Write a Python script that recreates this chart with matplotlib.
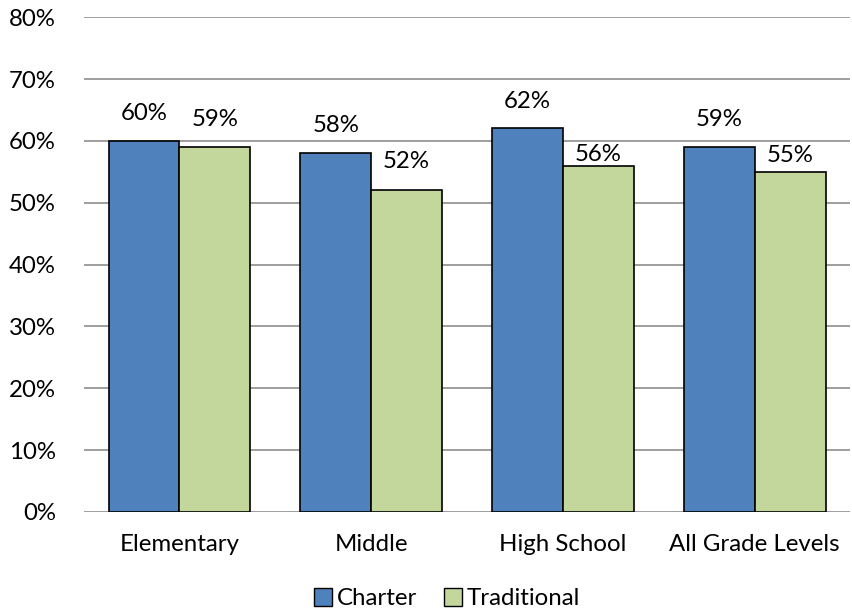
import numpy as np
import matplotlib.pyplot as plt
from matplotlib.patches import Patch

categories = ["Elementary", "Middle", "High School", "All Grade Levels"]
charter = [60, 58, 62, 59]
traditional = [59, 52, 56, 55]
yticks = [0, 10, 20, 30, 40, 50, 60, 70, 80]

# label offsets above bar top (data units), as placed in the source chart
charter_lab_off = [4.4, 4.4, 4.4, 4.4]
trad_lab_off = [4.4, 4.6, 1.8, 2.6]

plt.rcParams['font.family'] = ['Lato', 'DejaVu Sans']
FS = 17.3

fig = plt.figure(figsize=(8.53, 6.13), dpi=100)
ax = fig.add_axes([0.098, 0.165, 0.899, 0.807])

x = np.arange(len(categories))
w = 0.37
blue = "#4F81BD"
green = "#C3D69B"
b1 = ax.bar(x - w / 2, charter, w, color=blue, edgecolor="black", linewidth=1.2, zorder=3)
b2 = ax.bar(x + w / 2, traditional, w, color=green, edgecolor="black", linewidth=1.2, zorder=3)

for bars, vals, offs in ((b1, charter, charter_lab_off), (b2, traditional, trad_lab_off)):
    for r, v, o in zip(bars, vals, offs):
        ax.text(r.get_x() + r.get_width() / 2, v + o, f"{v}%", ha="center", va="center",
                fontsize=FS, zorder=4)

ax.set_xlim(-0.5, len(categories) - 0.5)
ax.set_ylim(0, 80)
ax.set_yticks(yticks)
ax.set_yticklabels([f"{t}%" for t in yticks], fontsize=FS)
ax.set_xticks(x)
ax.set_xticklabels(categories, fontsize=FS)
ax.tick_params(axis="x", length=0, pad=16)
ax.tick_params(axis="y", length=0, pad=20)
ax.grid(axis="y", color="#969696", linewidth=1.3, zorder=0)
for s in ax.spines.values():
    s.set_visible(False)

handles = [Patch(facecolor=blue, edgecolor="black", label="Charter"),
           Patch(facecolor=green, edgecolor="black", label="Traditional")]
fig.legend(handles=handles, loc="center", bbox_to_anchor=(0.524, 0.023), ncol=2, frameon=False,
           fontsize=FS, handlelength=0.75, handleheight=0.75, handletextpad=0.2,
           columnspacing=1.1, borderpad=0)

plt.savefig("out.png", dpi=100)
